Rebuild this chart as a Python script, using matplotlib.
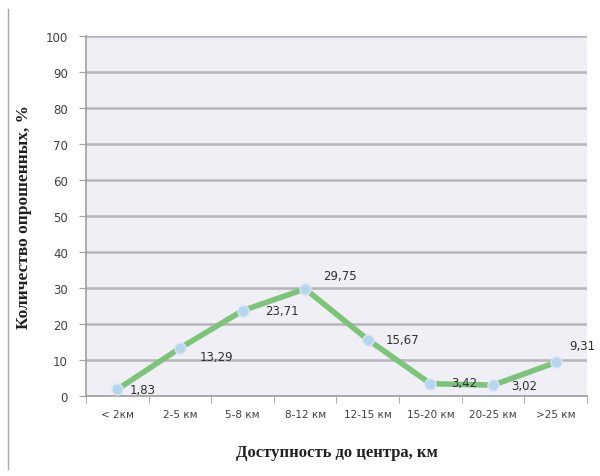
import matplotlib
matplotlib.use("Agg")
import matplotlib.pyplot as plt
from matplotlib.lines import Line2D
import numpy as np

categories = ["< 2км", "2-5 км", "5-8 км", "8-12 км", "12-15 км", "15-20 км", "20-25 км", ">25 км"]
values = [1.83, 13.29, 23.71, 29.75, 15.67, 3.42, 3.02, 9.31]
value_labels = ["1,83", "13,29", "23,71", "29,75", "15,67", "3,42", "3,02", "9,31"]
y_ticks = [0, 10, 20, 30, 40, 50, 60, 70, 80, 90, 100]

# label offsets in points (dx, dy) relative to each point
label_offsets = [(9, 0), (14, -6), (16, 0), (13, 10), (13, 0), (15, 1), (13, 0), (10, 12)]

fig = plt.figure(figsize=(6.0, 4.77), dpi=100)
ax = fig.add_axes([0.1433, 0.1677, 0.835, 0.7547])
ax.set_facecolor("#f0eff5")

x = np.arange(len(categories))
ax.set_xlim(-0.5, len(categories) - 0.5)
ax.set_ylim(0, 100)

ax.set_yticks(y_ticks)
ax.yaxis.grid(True, color="#b4b4ba", linewidth=1.8)
ax.set_axisbelow(True)
ax.tick_params(axis="y", length=5, color="#a0a0a0", labelsize=8.5, labelcolor="#404040", pad=8)

ax.set_xticks(x)
ax.set_xticklabels(categories)
ax.tick_params(axis="x", length=0, labelsize=7.5, labelcolor="#404040", pad=9)
ax.set_xticks(np.arange(-0.5, len(categories) + 0.5, 1), minor=True)
ax.tick_params(axis="x", which="minor", length=5, color="#a0a0a0")

for side in ("top", "right"):
    ax.spines[side].set_visible(False)
for side in ("left", "bottom"):
    ax.spines[side].set_color("#a0a0a0")
    ax.spines[side].set_linewidth(1.2)

ax.plot(x, values, color="#7cc47a", linewidth=4, solid_capstyle="round", zorder=3)
ax.plot(x, values, linestyle="none", marker="o", markersize=8,
        markerfacecolor="#b6d5ee", markeredgecolor="#d6e6f4", markeredgewidth=1, zorder=4)

for xi, v, lab, (dx, dy) in zip(x, values, value_labels, label_offsets):
    ax.annotate(lab, (xi, v), xytext=(dx, dy), textcoords="offset points",
                ha="left", va="center", fontsize=8.5, color="#303030", zorder=5)

ax.set_xlabel("Доступность до центра, км", fontfamily="Liberation Serif",
              fontweight="bold", fontsize=12, labelpad=18, color="#202020")
ax.set_ylabel("Количество опрошенных, %", fontfamily="Liberation Serif",
              fontweight="bold", fontsize=12.5, labelpad=10, color="#202020")

# thin frame line on the left side of the figure
fig.add_artist(Line2D([8 / 600, 8 / 600], [1 - 10 / 477, 1 - 470 / 477],
                      transform=fig.transFigure, color="#a8a8a8", linewidth=1))

fig.savefig("out.png", dpi=100)
